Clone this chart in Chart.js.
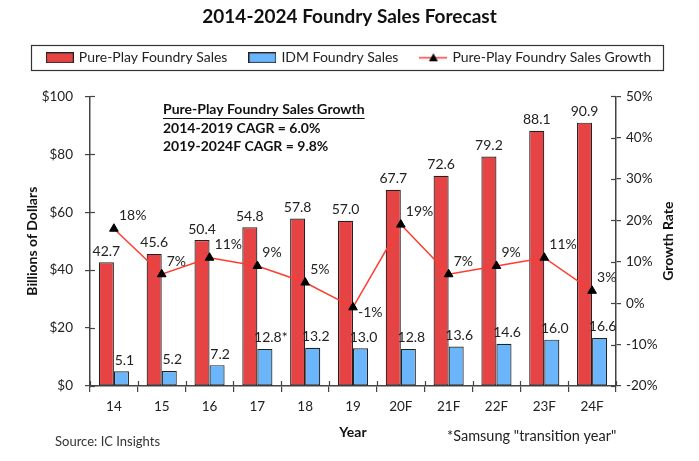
<!DOCTYPE html>
<html>
<head>
<meta charset="utf-8">
<script src="https://cdn.jsdelivr.net/npm/chart.js@4.4.1/dist/chart.umd.min.js"></script>
<style>
html,body{margin:0;padding:0;background:#fff;}
#wrap{position:relative;width:699px;height:461px;}
</style>
</head>
<body>
<div id="wrap"><canvas id="c" width="699" height="461"></canvas></div>
<script>
const categories = ['14','15','16','17','18','19','20F','21F','22F','23F','24F'];
const pureSales = [42.7,45.6,50.4,54.8,57.8,57.0,67.7,72.6,79.2,88.1,90.9];
const idmSales = [5.1,5.2,7.2,12.8,13.2,13.0,12.8,13.6,14.6,16.0,16.6];
const idmLabels = ['5.1','5.2','7.2','12.8*','13.2','13.0','12.8','13.6','14.6','16.0','16.6'];
const pureLabels = ['42.7','45.6','50.4','54.8','57.8','57.0','67.7','72.6','79.2','88.1','90.9'];
const growth = [18,7,11,9,5,-1,19,7,9,11,3];
const seriesNames = ['Pure-Play Foundry Sales','IDM Foundry Sales','Pure-Play Foundry Sales Growth'];
const chartTitle = '2014-2024 Foundry Sales Forecast';
const noteLines = ['Pure-Play Foundry Sales Growth','2014-2019 CAGR = 6.0%','2019-2024F CAGR = 9.8%'];
const sourceText = 'Source: IC Insights';
const footText = '*Samsung "transition year"';

const FONT = 'Lato, "Open Sans", sans-serif';
const RED = '#E64444';
const BLUE = '#6BB5FA';
const EDGE = '#222';
const AXIS = '#444';

function boxImg(fill){
  const c = document.createElement('canvas'); c.width = 28; c.height = 11;
  const g = c.getContext('2d');
  g.fillStyle = fill; g.fillRect(0.5,0.5,27,10);
  g.strokeStyle = EDGE; g.lineWidth = 1.2; g.strokeRect(0.5,0.5,27,10);
  return c;
}
function lineImg(){
  const c = document.createElement('canvas'); c.width = 28; c.height = 11;
  const g = c.getContext('2d');
  g.strokeStyle = '#FF3B2F'; g.lineWidth = 1.5;
  g.beginPath(); g.moveTo(0,5.5); g.lineTo(28,5.5); g.stroke();
  g.fillStyle = '#000'; g.beginPath(); g.moveTo(14,1); g.lineTo(18.5,9); g.lineTo(9.5,9); g.closePath(); g.fill();
  return c;
}
const legendImgs = [boxImg(RED), boxImg(BLUE), lineImg()];

const extras = {
  id: 'extras',
  afterDatasetsDraw(chart){
    const ctx = chart.ctx;
    ctx.save();
    ctx.fillStyle = '#222';
    ctx.font = '14px ' + FONT;
    ctx.textBaseline = 'bottom';
    const m0 = chart.getDatasetMeta(0), m1 = chart.getDatasetMeta(1), m2 = chart.getDatasetMeta(2);
    ctx.textAlign = 'center';
    m0.data.forEach((b,i)=>{ ctx.fillText(pureLabels[i], b.x, b.y - 4); });
    ctx.textAlign = 'left';
    m1.data.forEach((b,i)=>{
      const t = idmLabels[i];
      const w = ctx.measureText(t.replace('*','')).width;
      ctx.fillText(t, b.x - w/2 + 3, b.y - 4);
    });
    ctx.textBaseline = 'middle';
    m2.data.forEach((p,i)=>{
      const v = growth[i];
      ctx.fillText(v + '%', p.x + 5, v < 0 ? p.y + 5 : p.y - 13);
    });
    ctx.restore();
  },
  afterDraw(chart){
    const ctx = chart.ctx;
    const {left, right, top, bottom} = chart.chartArea;
    ctx.save();
    ctx.strokeStyle = AXIS; ctx.lineWidth = 1.2;
    const ys = chart.scales.y, y1 = chart.scales.y1;
    ys.ticks.forEach(t=>{ const py = Math.round(ys.getPixelForValue(t.value))+0.5; ctx.beginPath(); ctx.moveTo(left, py); ctx.lineTo(left+5, py); ctx.stroke(); });
    y1.ticks.forEach(t=>{ const py = Math.round(y1.getPixelForValue(t.value))+0.5; ctx.beginPath(); ctx.moveTo(right-5, py); ctx.lineTo(right, py); ctx.stroke(); });
    for (let i=0;i<=categories.length;i++){
      const px = Math.round(left + (right-left)*i/categories.length)+0.5;
      ctx.beginPath(); ctx.moveTo(px, bottom-5); ctx.lineTo(px, bottom); ctx.stroke();
    }
    // legend frame
    const lg = chart.legend;
    const hb = lg.legendHitBoxes;
    if (hb && hb.length){
      const x0 = hb[0].left - 17, x1 = hb[hb.length-1].left + hb[hb.length-1].width + 12;
      const cy = hb[0].top + hb[0].height/2;
      ctx.strokeStyle = '#333'; ctx.lineWidth = 1.2;
      ctx.strokeRect(Math.round(x0)+0.5, Math.round(cy - 12.5)+0.5, Math.round(x1-x0), 25);
    }
    // right axis title
    ctx.fillStyle = '#111';
    ctx.font = 'bold 14px ' + FONT;
    ctx.textAlign = 'center'; ctx.textBaseline = 'middle';
    ctx.translate(668, (top+bottom)/2);
    ctx.rotate(-Math.PI/2);
    ctx.fillText('Growth Rate', 0, 0);
    ctx.setTransform(1,0,0,1,0,0);
    ctx.restore();
    ctx.save();
    // annotation
    ctx.fillStyle = '#111';
    ctx.font = 'bold 14px ' + FONT;
    ctx.textAlign = 'left'; ctx.textBaseline = 'middle';
    const ax = 163;
    ctx.fillText(noteLines[0], ax, 109);
    const w0 = ctx.measureText(noteLines[0]).width;
    ctx.strokeStyle = '#111'; ctx.lineWidth = 1;
    ctx.beginPath(); ctx.moveTo(ax, 118.5); ctx.lineTo(ax + w0, 118.5); ctx.stroke();
    ctx.fillText(noteLines[1], ax, 128);
    ctx.fillText(noteLines[2], ax, 146);
    // footnotes
    ctx.font = '13px ' + FONT; ctx.fillStyle = '#333';
    ctx.fillText(sourceText, 55, 442);
    ctx.font = '14.5px ' + FONT; ctx.fillStyle = '#222';
    ctx.fillText(footText, 447, 436);
    ctx.restore();
  }
};

const legendPad = {
  id: 'legendPad',
  beforeInit(chart){
    const lg = chart.legend;
    const orig = lg.fit;
    lg.fit = function(){ orig.call(this); this.height += 21.5; };
  }
};

new Chart(document.getElementById('c'), {
  type: 'bar',
  data: {
    labels: categories,
    datasets: [
      { label: seriesNames[0], data: pureSales, backgroundColor: RED, borderColor: EDGE, borderWidth: 1.2, borderSkipped: false, yAxisID: 'y', order: 1, categoryPercentage: 0.63, barPercentage: 1 },
      { label: seriesNames[1], data: idmSales, backgroundColor: BLUE, borderColor: EDGE, borderWidth: 1.2, borderSkipped: false, yAxisID: 'y', order: 2, categoryPercentage: 0.63, barPercentage: 1 },
      { type: 'line', label: seriesNames[2], data: growth, yAxisID: 'y1', order: 0, borderColor: '#FF3B2F', borderWidth: 1.5, pointStyle: 'triangle', pointRadius: 5, pointBackgroundColor: '#000', pointBorderColor: '#000', pointBorderWidth: 1, tension: 0 }
    ]
  },
  options: {
    responsive: false,
    animation: false,
    devicePixelRatio: 1,
    layout: { padding: { left: 0, right: 0, top: 0, bottom: 0 } },
    plugins: {
      title: { display: true, text: chartTitle, color: '#111', font: { family: FONT, size: 19, weight: 'bold' }, padding: { top: 5, bottom: 0 } },
      legend: {
        display: true,
        labels: {
          usePointStyle: true, pointStyleWidth: 24, boxHeight: 11, padding: 23,
          color: '#222', font: { family: FONT, size: 14 },
          generateLabels(chart){
            return chart.data.datasets.map((d,i)=>({ text: d.label, pointStyle: legendImgs[i], datasetIndex: i, hidden: false, fillStyle: 'transparent', strokeStyle: 'transparent', lineWidth: 0, fontColor: '#222' }));
          }
        }
      },
      tooltip: { enabled: false }
    },
    scales: {
      x: {
        type: 'category',
        grid: { offset: true, drawOnChartArea: false, drawTicks: true, tickLength: 6, color: AXIS, lineWidth: 1.2 },
        border: { display: true, color: AXIS, width: 1.5 },
        ticks: { color: '#222', font: { family: FONT, size: 13.5 }, padding: 7, maxRotation: 0 },
        title: { display: true, text: 'Year', color: '#111', font: { family: FONT, size: 14, weight: 'bold' }, padding: { top: 2, bottom: 20 } },
        afterFit(s){ s.height = 75; }
      },
      y: {
        position: 'left', min: 0, max: 100,
        grid: { drawOnChartArea: false, drawTicks: true, tickLength: 5, color: AXIS, lineWidth: 1.2 },
        border: { display: true, color: AXIS, width: 1.5 },
        ticks: { stepSize: 20, color: '#222', font: { family: FONT, size: 13.5 }, padding: 12, callback: v => '$' + v },
        title: { display: true, text: 'Billions of Dollars', color: '#111', font: { family: FONT, size: 14, weight: 'bold' }, padding: { top: 24, bottom: 0 } },
        afterFit(s){ s.width = 90; }
      },
      y1: {
        position: 'right', min: -20, max: 50,
        grid: { drawOnChartArea: false, drawTicks: true, tickLength: 5, color: AXIS, lineWidth: 1.2 },
        border: { display: true, color: AXIS, width: 1.5 },
        ticks: { stepSize: 10, color: '#222', font: { family: FONT, size: 13.5 }, padding: 5, callback: v => v + '%' },
        afterFit(s){ s.width = 83; }
      }
    }
  },
  plugins: [legendPad, extras]
});
</script>
</body>
</html>
